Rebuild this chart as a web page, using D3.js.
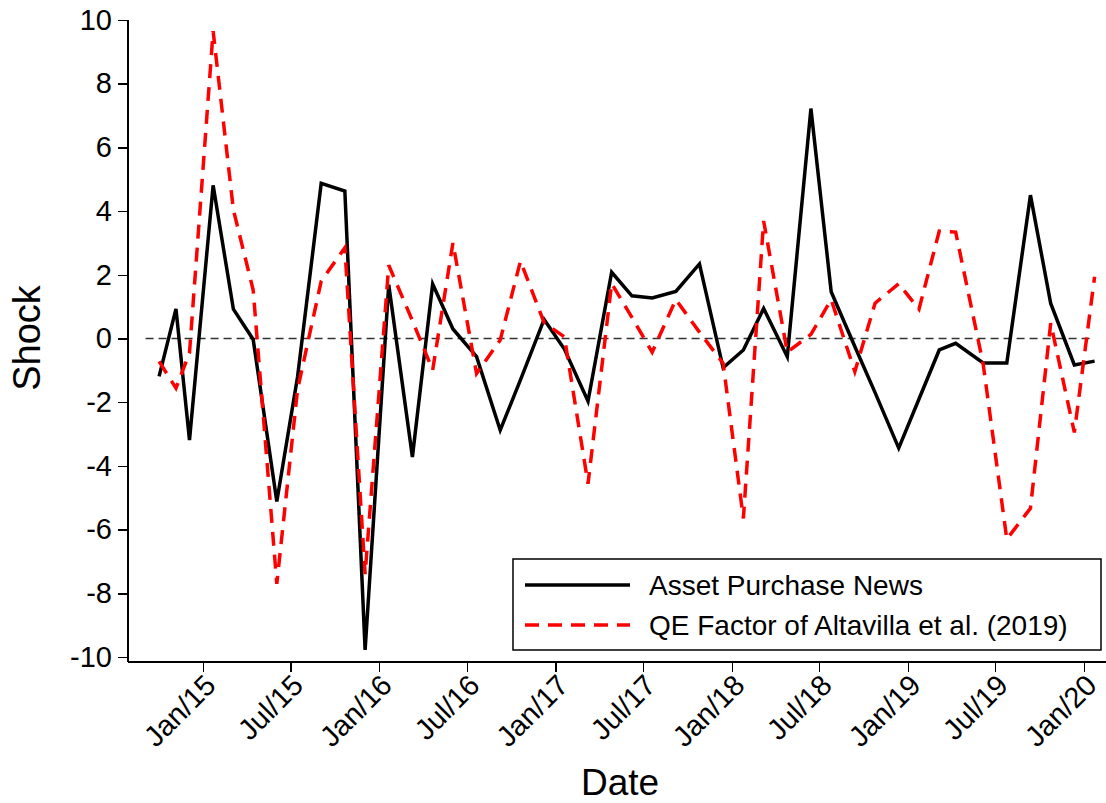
<!DOCTYPE html>
<head>
  <meta charset="utf-8">
  <title>Asset Purchase News vs QE Factor</title>
  <style>
    body {margin: 0; background: #fff;}
    svg {font-family: Arial, "Liberation Sans", Helvetica, sans-serif;}
    .line {
        fill: none;
        stroke-width: 3.5;
    }
    .news {stroke: #000;}
    .qe {stroke: #ff0000; stroke-dasharray: 14,9;}
    .zero {
        stroke: #333;
        stroke-width: 1.3;
        stroke-dasharray: 8,5;
    }
    .axis line, .axis-line {
        stroke: #000;
        stroke-width: 1.5;
        shape-rendering: crispEdges;
    }
</style>
</head>

<body>

  <svg width="1106" height="803"></svg>

  <!-- load the d3.js library -->
  <script src="https://d3js.org/d3.v7.min.js"></script>

  <script>

    //ECB Governing Council monetary policy meetings
    var meetingDates = [
      "2014-10-02", "2014-11-06", "2014-12-04",
      "2015-01-22", "2015-03-05", "2015-04-15", "2015-06-03", "2015-07-16", "2015-09-03", "2015-10-22", "2015-12-03",
      "2016-01-21", "2016-03-10", "2016-04-21", "2016-06-02", "2016-07-21", "2016-09-08", "2016-10-20", "2016-12-08",
      "2017-01-19", "2017-03-09", "2017-04-27", "2017-06-08", "2017-07-20", "2017-09-07", "2017-10-26", "2017-12-14",
      "2018-01-25", "2018-03-08", "2018-04-26", "2018-06-14", "2018-07-26", "2018-09-13", "2018-10-25", "2018-12-13",
      "2019-01-24", "2019-03-07", "2019-04-10", "2019-06-06", "2019-07-25", "2019-09-12", "2019-10-24", "2019-12-12",
      "2020-01-23"
    ];

    //Asset purchase news shock (solid black)
    var assetPurchaseNews = [
      -1.19, 0.93, -3.19,
      4.81, 0.92, -0.03, -5.12, -1.2, 4.87, 4.63, -9.78,
      1.69, -3.72, 1.71, 0.3, -0.57, -2.88, -1.3, 0.6,
      -0.33, -1.97, 2.08, 1.34, 1.27, 1.48, 2.34, -0.92,
      -0.36, 0.94, -0.57, 7.22, 1.47, -0.25, -1.7, -3.44,
      -1.9, -0.36, -0.15, -0.77, -0.77, 4.5, 1.1, -0.83,
      -0.71
    ];

    //QE factor of Altavilla et al. (2019) (dashed red)
    var qeFactor = [
      -0.72, -1.56, -0.45,
      9.65, 4.04, 1.52, -7.7, -1.6, 1.8, 2.85, -7.4,
      2.3, 0.56, -0.99, 3.0, -1.1, -0.05, 2.43, 0.5,
      0.05, -4.56, 1.73, 0.66, -0.43, 1.22, 0.2, -0.78,
      -5.65, 3.69, -0.43, 0.13, 1.22, -1.04, 1.11, 1.72,
      0.92, 3.37, 3.34, -0.8, -6.3, -5.33, 0.48, -2.95,
      1.94
    ];

    var seriesNames = ["Asset Purchase News", "QE Factor of Altavilla et al. (2019)"];
    var yTicks = [-10, -8, -6, -4, -2, 0, 2, 4, 6, 8, 10];
    var xTickDates = ["2015-01-01", "2015-07-01", "2016-01-01", "2016-07-01", "2017-01-01", "2017-07-01",
                      "2018-01-01", "2018-07-01", "2019-01-01", "2019-07-01", "2020-01-01"];
    var zeroLineSpan = ["2014-09-04", "2020-01-23"];

    var parseDate = d3.timeParse("%Y-%m-%d");
    var svg = d3.select("svg");

    //plot frame
    var frame = {left: 128, right: 1106, top: 20, bottom: 662};

    //Scales
    var x = d3.scaleTime()
        .domain([parseDate("2015-01-01"), parseDate("2020-01-01")])
        .range([203, 1084]);
    var y = d3.scaleLinear()
        .domain([-10, 10])
        .range([657, 20]);

    var news = meetingDates.map(function(d, i) { return {date: parseDate(d), value: assetPurchaseNews[i]}; });
    var qe = meetingDates.map(function(d, i) { return {date: parseDate(d), value: qeFactor[i]}; });

    var line = d3.line()
        .x(function(d) { return x(d.date); })
        .y(function(d) { return y(d.value); });

    //Zero reference line
    svg.append("line")
        .attr("class", "zero")
        .attr("x1", x(parseDate(zeroLineSpan[0])))
        .attr("x2", x(parseDate(zeroLineSpan[1])))
        .attr("y1", y(0))
        .attr("y2", y(0));

    //Y axis
    var yAxis = svg.append("g")
        .attr("class", "axis")
        .attr("transform", "translate(" + frame.left + ",0)")
        .call(d3.axisLeft(y).tickValues(yTicks).tickSize(10).tickPadding(6).tickFormat(d3.format("d")));
    yAxis.select(".domain").remove();
    yAxis.attr("font-family", null).attr("font-size", null);
    yAxis.selectAll("text").style("font-size", "29px").attr("fill", "#000");
    yAxis.selectAll("text").text(function(d) { return d < 0 ? "-" + Math.abs(d) : d; });

    //X axis
    var xAxis = svg.append("g")
        .attr("class", "axis")
        .attr("transform", "translate(0," + frame.bottom + ")")
        .call(d3.axisBottom(x)
          .tickValues(xTickDates.map(parseDate))
          .tickSize(10)
          .tickFormat(d3.timeFormat("%b/%y")));
    xAxis.select(".domain").remove();
    xAxis.attr("font-family", null).attr("font-size", null);
    xAxis.selectAll("text")
        .style("font-size", "29px")
        .attr("fill", "#000")
        .attr("text-anchor", "end")
        .attr("y", 0)
        .attr("dy", null)
        .attr("transform", "translate(14,25) rotate(-45)");

    //axis lines
    svg.append("line").attr("class", "axis-line")
        .attr("x1", frame.left).attr("x2", frame.left)
        .attr("y1", frame.top).attr("y2", frame.bottom);
    svg.append("line").attr("class", "axis-line")
        .attr("x1", frame.left).attr("x2", frame.right)
        .attr("y1", frame.bottom).attr("y2", frame.bottom);

    //Axis titles
    svg.append("text")
        .attr("transform", "translate(40,338) rotate(-90)")
        .attr("text-anchor", "middle")
        .style("font-size", "38px")
        .text("Shock");

    svg.append("text")
        .attr("x", 620)
        .attr("y", 795)
        .attr("text-anchor", "middle")
        .style("font-size", "37px")
        .text("Date");

    //Data lines
    svg.append("path")
        .datum(news)
        .attr("class", "line news")
        .attr("d", line);

    svg.append("path")
        .datum(qe)
        .attr("class", "line qe")
        .attr("d", line);

    //Legend
    var legend = svg.append("g").attr("transform", "translate(513,559)");
    legend.append("rect")
        .attr("width", 588)
        .attr("height", 91)
        .attr("fill", "#fff")
        .attr("stroke", "#000")
        .attr("stroke-width", 1.5);

    var legendItem = legend.selectAll(".item")
        .data(seriesNames)
        .enter().append("g")
          .attr("class", "item")
          .attr("transform", function(d, i) { return "translate(0," + (26 + i * 40) + ")"; });

    legendItem.append("line")
        .attr("class", function(d, i) { return i === 0 ? "line news" : "line qe"; })
        .attr("x1", 12)
        .attr("x2", 117)
        .attr("y1", 0)
        .attr("y2", 0);

    legendItem.append("text")
        .attr("x", 136)
        .attr("dy", "0.35em")
        .style("font-size", "28px")
        .text(function(d) { return d; });

  </script>
</body>
